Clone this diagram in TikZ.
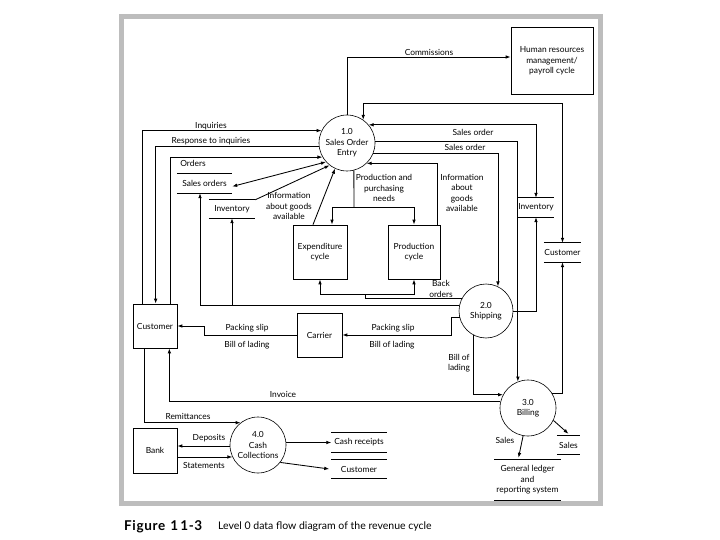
\documentclass[tikz,border=0pt]{standalone}
\usepackage{fontspec}
\setmainfont{Lato}
\usetikzlibrary{arrows.meta,calc}
\begin{document}
\begin{tikzpicture}[x=1pt,y=-1pt,
  every node/.style={font=\fontsize{8.4}{10.4}\selectfont, inner sep=0pt, align=center},
  ln/.style={line width=0.85pt},
  flow/.style={ln, -{Latex[length=5pt,width=3.6pt]}},
  flow2/.style={ln, {Latex[length=5pt,width=3.6pt]}-{Latex[length=5pt,width=3.6pt]}},
  proc/.style={circle, draw, line width=0.6pt, inner sep=0pt},
  ent/.style={rectangle, draw, line width=0.7pt},
  store/.style={rectangle, inner sep=0pt}
]
\useasboundingbox (0,0) rectangle (720,540);
\fill[white] (0,0) rectangle (720,540);
% frame
\draw[black!26, line width=5pt] (121,17) rectangle (600,503);

% entities
\node[ent, minimum width=82pt, minimum height=67pt] (hr) at (552,61) {Human resources\\management/\\payroll cycle};
\node[ent, minimum width=44pt, minimum height=44pt] (custL) at (155,326) {Customer};
\node[ent, minimum width=54pt, minimum height=54pt] (exp) at (320,252) {Expenditure\\cycle};
\node[ent, minimum width=52pt, minimum height=54pt] (prod) at (414,252) {Production\\cycle};
\node[ent, minimum width=45pt, minimum height=44pt] (carrier) at (319.5,335) {Carrier};
\node[ent, minimum width=44pt, minimum height=45pt] (bank) at (155,450.5) {Bank};

% processes
\node[proc, minimum size=56pt] (p1) at (347,143) {1.0\\Sales Order\\Entry};
\node[proc, minimum size=54pt] (p2) at (486,311) {2.0\\Shipping};
\node[proc, minimum size=56pt] (p3) at (528,408) {3.0\\Billing};
\node[proc, minimum size=56pt] (p4) at (258,445) {4.0\\Cash\\Collections};

% data stores
\node[store, minimum width=55pt, minimum height=19pt] (so) at (204.5,183.5) {Sales orders};
\node[store, minimum width=46pt, minimum height=18pt] (invL) at (232,209) {Inventory};
\node[store, minimum width=36pt, minimum height=19pt] (invR) at (536,207.5) {Inventory};
\node[store, minimum width=37pt, minimum height=19pt] (custR) at (562.5,252.5) {Customer};
\node[store, minimum width=55pt, minimum height=19pt] (cashrec) at (359,442.5) {Cash receipts};
\node[store, minimum width=55pt, minimum height=18pt] (custB) at (359,469) {Customer};
\node[store, minimum width=23pt, minimum height=18pt] (salesR) at (568.5,445) {Sales};
\node[store, minimum width=66pt, minimum height=40pt] (gl) at (527.5,480) {General ledger\\and\\reporting system};
\foreach \s in {so,invL,invR,custR,cashrec,custB,salesR,gl}
  \draw[ln] (\s.north west) -- (\s.north east) (\s.south west) -- (\s.south east);

% connectors
\draw[flow] (p1.north) |- ([yshift=4pt]hr.west);
\coordinate (cr) at (562.5,103);
\draw[flow2] (p1.55.2) |- (cr) -- (custR.north);
\draw[flow] ([xshift=10pt]custL.north west) |- (p1.154.6);
\draw[flow] (p1.186.2) -| ([xshift=23pt]custL.north west);
\draw[flow] ([xshift=38pt]custL.north west) |- (p1.210);
\draw[flow2] ([yshift=-3pt]so.east) -- (p1.222);
\draw[flow] (invL.north east) -- (p1.232);
\draw[flow] ([xshift=-7pt]exp.north) -- (p1.245);
\coordinate (j1) at (354,207);
\draw[ln] (p1.284.5) -- (j1);
\draw[flow] (j1) -| ([xshift=12pt]exp.north);
\draw[flow] (j1) -| (prod.north);
\draw[flow] ([xshift=-3pt]prod.north east) |- (p1.314.4);
\draw[flow2] (p1.40) -| (invR.north);
\draw[flow] (p1.4.1) -| (p3.111.4);
\draw[flow] (p1.339.1) -| (p2.64.3);
\draw[flow] (p2.0) -| (invR.south);
\draw[flow] (p3.32.4) -| (custR.south);
\coordinate (bo) at (365,294);
\draw[ln] (p2.153.6) -| (bo);
\draw[flow] (bo) -| (exp.south);
\draw[flow] (bo) -| (prod.south);
\draw[flow] (p2.169.3) -| ([xshift=-4.5pt]so.south);
\draw[flow] (invL.south |- p2.169.3) -- (invL.south);
\draw[flow] (p2.194.5) -- ++(-8,0) |- (carrier.east);
\draw[flow] (carrier.west) -- ++(-92,0) |- (custL.east);
\draw[flow] (p2.243.6) |- (p3.152.3);
\draw[flow] (p3.167.6) -| ([xshift=-8pt]custL.south east);
\draw[flow] ([xshift=12pt]custL.south west) |- (p4.128.2);
\draw[flow] (p4.182) -- (bank.east |- p4.182);
\draw[flow] (bank.east |- p4.205.4) -- (p4.205.4);
\draw[flow] (p4.5) -- (cashrec.west);
\draw[flow] (p4.-38) -- ([xshift=-2pt]custB.west);
\draw[flow] (p3.-26) -- ([yshift=2pt]salesR.north);
\draw[flow] (p3.-100) -- ([xshift=-9pt,yshift=2pt]gl.north);

% labels
\node (lcom) at (429,52) {Commissions};
\node (linq) at (211,126) {Inquiries};
\node (lresp) at (211,141) {Response to inquiries};
\node (lord) at (193,163) {Orders};
\node (linfo1) at (289,206) {Information\\about goods\\available};
\node (lneeds) at (384,188) {Production and\\purchasing\\needs};
\node (linfo2) at (462,193) {Information\\about\\goods\\available};
\node (lso1) at (473,132) {Sales order};
\node (lso2) at (465,147) {Sales order};
\node (lback) at (441,289) {Back\\orders};
\node (lps1) at (393,328) {Packing slip};
\node (lbl1) at (392,345) {Bill of lading};
\node (lps2) at (247,328) {Packing slip};
\node (lbl2) at (247,345) {Bill of lading};
\node (lbl3) at (459,363) {Bill of\\lading};
\node (linv) at (283,394) {Invoice};
\node (lrem) at (188,416) {Remittances};
\node (ldep) at (209,438) {Deposits};
\node (lstat) at (204,465) {Statements};
\node (lsales) at (505,440) {Sales};

% caption
\node[anchor=west, font=\fontsize{13.5}{15}\selectfont\bfseries\addfontfeature{LetterSpace=5}] (fig) at (124,527) {Figure\hspace{5pt}1\hspace{2pt}1-3};
\node[anchor=west, font=\fontsize{10.5}{12}\selectfont] (cap) at (218,527) {Level 0 data flow diagram of the revenue cycle};
\end{tikzpicture}
\end{document}
